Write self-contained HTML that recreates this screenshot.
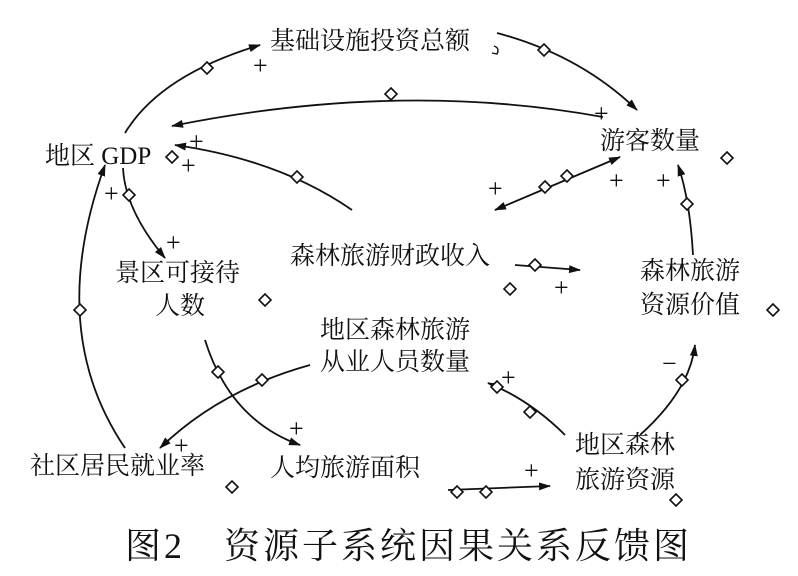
<!DOCTYPE html>
<html><head><meta charset="utf-8"><style>
html,body{margin:0;padding:0;background:#fff}
svg{display:block}
text{font-family:"Liberation Serif","Noto Serif CJK SC","Noto Sans CJK SC",serif;fill:#111}
.t{font-size:25px}
.s{font-size:26px}
</style></head><body>
<svg width="798" height="576" viewBox="0 0 798 576" xmlns="http://www.w3.org/2000/svg">
<defs>
<marker id="a" markerWidth="12" markerHeight="8" refX="11" refY="4" orient="auto" markerUnits="userSpaceOnUse"><path d="M0,0 L12,4 L0,8 Z" fill="#111"/></marker>
<marker id="b" markerWidth="12" markerHeight="8" refX="1" refY="4" orient="auto" markerUnits="userSpaceOnUse"><path d="M12,0 L0,4 L12,8 Z" fill="#111"/></marker>
<g id="d"><path d="M0,-6 L6,0 L0,6 L-6,0 Z" fill="#fff" stroke="#111" stroke-width="1.6"/></g>
</defs>
<g fill="none" stroke="#111" stroke-width="1.8">
<path d="M125,133 Q160,75 260,45" marker-end="url(#a)"/>
<path d="M497,33 Q580,55 637,110" marker-end="url(#a)"/>
<path d="M603,117 Q400,80 172,126" marker-end="url(#a)"/>
<path d="M352,210 Q280,160 175,145" marker-end="url(#a)"/>
<path d="M123,168 Q125,210 165,258" marker-end="url(#a)"/>
<path d="M495,210 L620,157" marker-start="url(#b)" marker-end="url(#a)"/>
<path d="M693,255 Q690,200 678,165" marker-end="url(#a)"/>
<path d="M515,265 L580,270" marker-end="url(#a)"/>
<path d="M640,435 Q690,390 695,345" marker-end="url(#a)"/>
<path d="M565,435 Q530,400 488,383" marker-end="url(#a)"/>
<path d="M310,365 Q220,390 160,448" marker-end="url(#a)"/>
<path d="M205,340 Q230,420 300,445" marker-end="url(#a)"/>
<path d="M125,448 Q45,330 105,165" marker-end="url(#a)"/>
<path d="M448,490 L550,486" marker-end="url(#a)"/>
<path d="M494,46 q6,2 3,8 l-5,-1" stroke-width="1.4"/>
</g>
<use href="#d" x="207" y="68"/><use href="#d" x="544" y="50"/><use href="#d" x="391" y="94"/>
<use href="#d" x="297" y="177"/><use href="#d" x="172" y="157"/><use href="#d" x="129" y="195"/>
<use href="#d" x="545" y="187"/><use href="#d" x="567" y="176"/><use href="#d" x="727" y="158"/>
<use href="#d" x="687" y="204"/><use href="#d" x="535" y="265"/><use href="#d" x="510" y="289"/>
<use href="#d" x="773" y="310"/><use href="#d" x="682" y="380"/><use href="#d" x="265" y="300"/>
<use href="#d" x="80" y="310"/><use href="#d" x="262" y="380"/><use href="#d" x="218" y="372"/>
<use href="#d" x="497" y="387"/><use href="#d" x="530" y="412"/><use href="#d" x="232" y="487"/>
<use href="#d" x="457" y="492"/><use href="#d" x="486" y="492"/><use href="#d" x="676" y="500"/>
<g class="s">
<text x="253" y="74">+</text><text x="594" y="122">+</text><text x="189" y="150">+</text>
<text x="181" y="174">+</text><text x="104" y="202">+</text><text x="166" y="251">+</text>
<text x="488" y="197">+</text><text x="609" y="189">+</text><text x="656" y="189">+</text>
<text x="554" y="296">+</text><text x="501" y="386">+</text><text x="289" y="437">+</text>
<text x="174" y="454">+</text><text x="524" y="479">+</text><text x="662" y="372">−</text>
</g>
<g class="t">
<text x="270" y="49">基础设施投资总额</text>
<text x="45" y="164">地区 GDP</text>
<text x="600" y="149">游客数量</text>
<text x="115" y="281">景区可接待</text>
<text x="155" y="314">人数</text>
<text x="290" y="264">森林旅游财政收入</text>
<text x="640" y="279">森林旅游</text>
<text x="640" y="313">资源价值</text>
<text x="320" y="338">地区森林旅游</text>
<text x="320" y="370">从业人员数量</text>
<text x="30" y="474">社区居民就业率</text>
<text x="270" y="476">人均旅游面积</text>
<text x="575" y="453">地区森林</text>
<text x="575" y="488">旅游资源</text>
</g>
<text x="125" y="558" style="font-size:36px;letter-spacing:3px">图2　资源子系统因果关系反馈图</text>
</svg>
</body></html>
